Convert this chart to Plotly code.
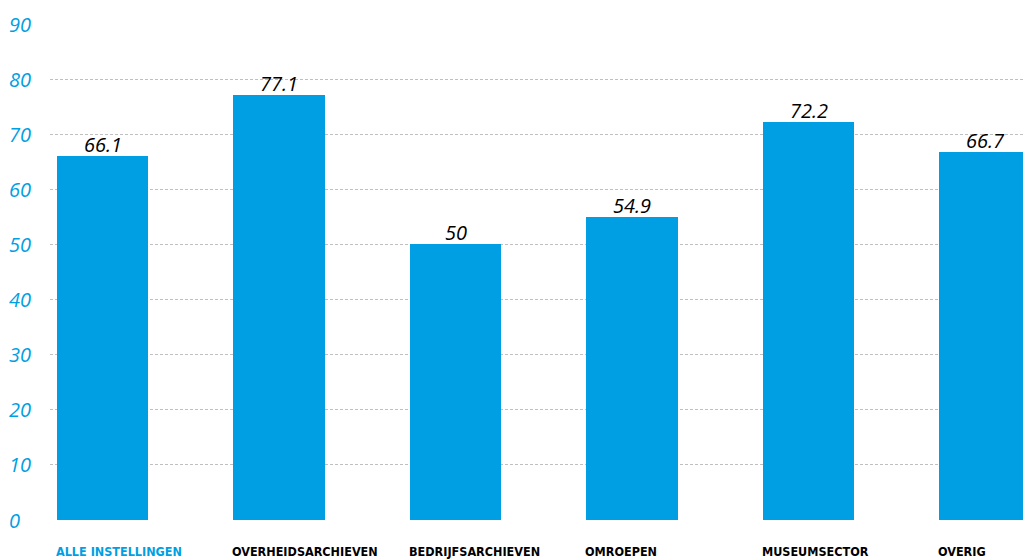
import plotly.graph_objects as go

categories = ["ALLE INSTELLINGEN", "OVERHEIDSARCHIEVEN", "BEDRIJFSARCHIEVEN",
              "OMROEPEN", "MUSEUMSECTOR", "OVERIG"]
values = [66.1, 77.1, 50, 54.9, 72.2, 66.7]
value_labels = ["66.1", "77.1", "50", "54.9", "72.2", "66.7"]
y_ticks = [0, 10, 20, 30, 40, 50, 60, 70, 80, 90]
label_colors = ["#009FE3", "#000000", "#000000", "#000000", "#000000", "#000000"]

BLUE = "#009FE3"
BAR_W = 0.52
xs = list(range(len(categories)))

fig = go.Figure()
fig.add_trace(go.Bar(
    x=xs, y=values, width=BAR_W,
    marker=dict(color=BLUE, line=dict(width=0)),
    hoverinfo="skip",
))

annotations = []
for t in y_ticks:
    annotations.append(dict(
        x=0, xref="paper", y=t, yref="y", text=str(t), showarrow=False,
        xanchor="left", yanchor="middle", xshift=-43,
        font=dict(family="Open Sans", size=20, color=BLUE, style="italic"),
    ))
for i, (v, lab) in enumerate(zip(values, value_labels)):
    annotations.append(dict(
        x=i, xref="x", y=v, yref="y", text=lab, showarrow=False,
        xanchor="center", yanchor="bottom", yshift=-4,
        font=dict(family="Open Sans", size=20, color="#000000", style="italic"),
    ))
for i, (c, col) in enumerate(zip(categories, label_colors)):
    annotations.append(dict(
        x=i - BAR_W / 2, xref="x", y=-0.0625, yref="paper", text="<b>" + c + "</b>",
        showarrow=False, xanchor="left", yanchor="middle", xshift=-3,
        font=dict(family="Liberation Sans Narrow, DejaVu Sans Condensed, Arial Narrow, sans-serif",
                  size=12.5, color=col),
    ))

fig.update_layout(
    width=1023, height=560,
    margin=dict(l=50, r=0, t=24, b=40),
    paper_bgcolor="white", plot_bgcolor="white",
    showlegend=False,
    bargap=0,
    xaxis=dict(range=[-0.2976, 5.215], showgrid=False, zeroline=False,
               showticklabels=False, showline=False, ticks=""),
    yaxis=dict(range=[0, 90], tickvals=y_ticks, showticklabels=False,
               showgrid=True, gridcolor="#BFBFBF", gridwidth=1, griddash="3px,2px",
               zeroline=False, showline=False, ticks=""),
    annotations=annotations,
)

fig.write_html(
    "out.html",
    config={"displayModeBar": False},
    post_script="document.body.style.margin='0';document.body.style.overflow='hidden';",
)
